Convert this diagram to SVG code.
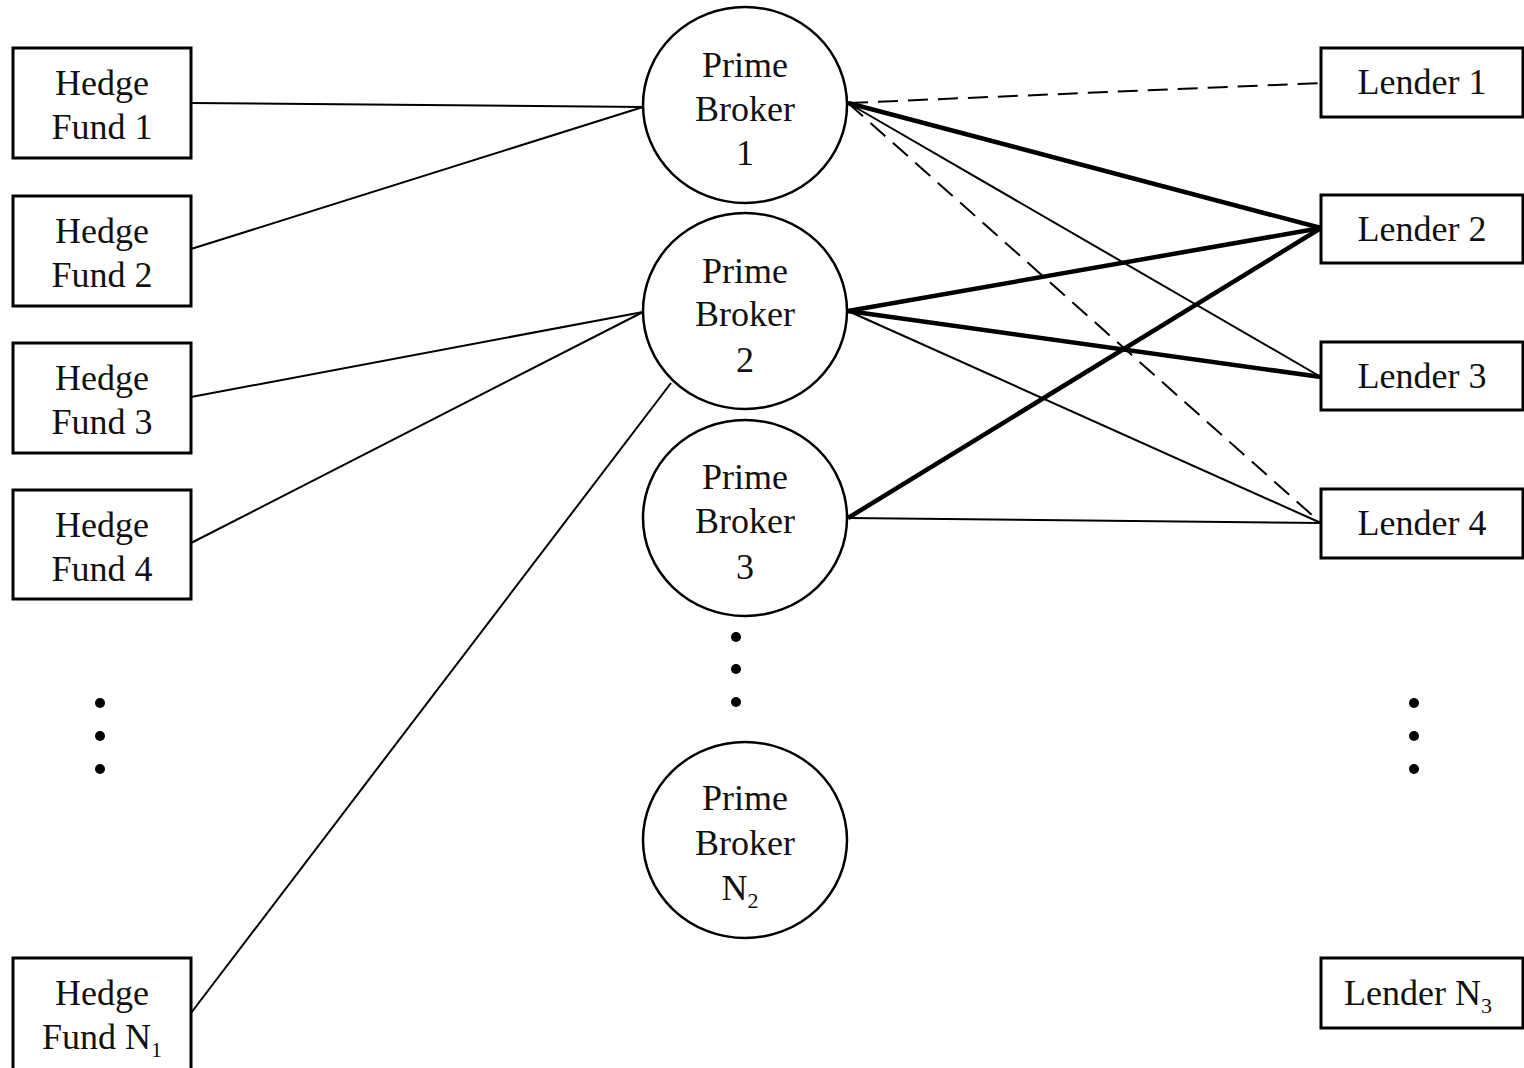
<svg xmlns="http://www.w3.org/2000/svg" width="1524" height="1068" viewBox="0 0 1524 1068">
<style>
.box{fill:#fff;stroke:#000;stroke-width:3}
.pb{fill:#fff;stroke:#000;stroke-width:2.5}
.t{font-family:"Liberation Serif","Times New Roman",serif;font-size:36px;fill:#111;text-anchor:middle}
.thin{stroke:#000;stroke-width:2;fill:none}
.thick{stroke:#000;stroke-width:4.5;fill:none}
.dash{stroke:#000;stroke-width:2;fill:none;stroke-dasharray:20 10}
.dot{fill:#000}
</style>
<rect width="1524" height="1068" fill="#fff"/>
<g id="connectors">
<line class="thin" x1="191" y1="103" x2="643" y2="107"/>
<line class="thin" x1="191" y1="249" x2="643" y2="107"/>
<line class="thin" x1="191" y1="397" x2="643" y2="312"/>
<line class="thin" x1="191" y1="543" x2="643" y2="312"/>
<line class="thin" x1="191" y1="1013" x2="671" y2="383"/>
<line class="dash" x1="848" y1="103" x2="1321" y2="83"/>
<line class="thick" x1="848" y1="103" x2="1321" y2="228"/>
<line class="thin" x1="848" y1="103" x2="1321" y2="377"/>
<line class="dash" x1="848" y1="103" x2="1321" y2="523"/>
<line class="thick" x1="848" y1="311" x2="1321" y2="228"/>
<line class="thick" x1="848" y1="311" x2="1321" y2="377"/>
<line class="thin" x1="848" y1="311" x2="1321" y2="523"/>
<line class="thick" x1="848" y1="518" x2="1321" y2="228"/>
<line class="thin" x1="848" y1="518" x2="1321" y2="523"/>
</g>
<g id="hf1"><rect class="box" x="13" y="48" width="178" height="110"/><text class="t" x="102" y="95">Hedge</text><text class="t" x="102" y="139">Fund 1</text></g>
<g id="hf2"><rect class="box" x="13" y="196" width="178" height="110"/><text class="t" x="102" y="243">Hedge</text><text class="t" x="102" y="287">Fund 2</text></g>
<g id="hf3"><rect class="box" x="13" y="343" width="178" height="110"/><text class="t" x="102" y="390">Hedge</text><text class="t" x="102" y="434">Fund 3</text></g>
<g id="hf4"><rect class="box" x="13" y="490" width="178" height="109"/><text class="t" x="102" y="537">Hedge</text><text class="t" x="102" y="581">Fund 4</text></g>
<g id="hfn"><rect class="box" x="13" y="958" width="178" height="120"/><text class="t" x="102" y="1005">Hedge</text><text class="t" x="102" y="1049">Fund N<tspan dy="8" font-size="22">1</tspan></text></g>
<g id="pb1"><ellipse class="pb" cx="745" cy="105" rx="102" ry="98"/><text class="t" x="745" y="77">Prime</text><text class="t" x="745" y="121">Broker</text><text class="t" x="745" y="165">1</text></g>
<g id="pb2"><ellipse class="pb" cx="745" cy="311" rx="102" ry="98"/><text class="t" x="745" y="283">Prime</text><text class="t" x="745" y="326">Broker</text><text class="t" x="745" y="372">2</text></g>
<g id="pb3"><ellipse class="pb" cx="745" cy="518" rx="102" ry="98"/><text class="t" x="745" y="489">Prime</text><text class="t" x="745" y="533">Broker</text><text class="t" x="745" y="579">3</text></g>
<g id="pbn"><ellipse class="pb" cx="745" cy="840" rx="102" ry="98"/><text class="t" x="745" y="810">Prime</text><text class="t" x="745" y="855">Broker</text><text class="t" x="740" y="900">N<tspan dy="8" font-size="22">2</tspan></text></g>
<g id="l1"><rect class="box" x="1321" y="48" width="202" height="69"/><text class="t" x="1422" y="94">Lender 1</text></g>
<g id="l2"><rect class="box" x="1321" y="195" width="202" height="68"/><text class="t" x="1422" y="241">Lender 2</text></g>
<g id="l3"><rect class="box" x="1321" y="342" width="202" height="68"/><text class="t" x="1422" y="388">Lender 3</text></g>
<g id="l4"><rect class="box" x="1321" y="489" width="202" height="69"/><text class="t" x="1422" y="535">Lender 4</text></g>
<g id="ln"><rect class="box" x="1321" y="958" width="202" height="70"/><text class="t" x="1418" y="1005">Lender N<tspan dy="8" font-size="22">3</tspan></text></g>
<g id="dots">
<circle class="dot" cx="100" cy="703" r="5"/><circle class="dot" cx="100" cy="736" r="5"/><circle class="dot" cx="100" cy="769" r="5"/>
<circle class="dot" cx="736" cy="637" r="5"/><circle class="dot" cx="736" cy="669" r="5"/><circle class="dot" cx="736" cy="702" r="5"/>
<circle class="dot" cx="1414" cy="703" r="5"/><circle class="dot" cx="1414" cy="736" r="5"/><circle class="dot" cx="1414" cy="769" r="5"/>
</g>
</svg>
